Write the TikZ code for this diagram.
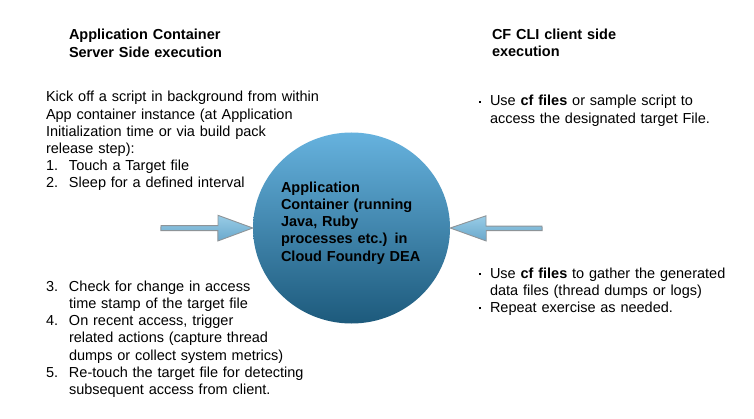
\documentclass[tikz,border=0pt]{standalone}
\usepackage{fontspec}
\setmainfont{Liberation Sans}
\usetikzlibrary{shapes.geometric}
\definecolor{circtop}{HTML}{66B2DE}
\definecolor{circbot}{HTML}{1D5A7C}
\definecolor{arrtop}{HTML}{98CCE6}
\definecolor{arrbot}{HTML}{6AA8CC}
\definecolor{arredge}{HTML}{8E9498}
\newcommand{\mybul}{\makebox[11pt][l]{\raisebox{3.2pt}{\rule{2.2pt}{2.2pt}}}}
\newcommand{\mynum}[1]{\makebox[23pt][l]{#1}}
\tikzset{
  txt/.style={anchor=base west, inner sep=0pt, outer sep=0pt, text width=320pt, align=left,
    font=\fontsize{14.5}{17.1}\selectfont},
  ttl/.style={txt, font=\fontsize{14.5}{17.6}\selectfont\bfseries},
  bigarrow/.style={draw=arredge, line width=0.9pt, top color=arrtop, bottom color=arrbot, line join=miter},
  container/.style={ellipse, minimum width=197pt, minimum height=191pt, inner sep=0pt,
    top color=circtop, bottom color=circbot, shading angle=0}
}
\begin{document}
\begin{tikzpicture}[x=1pt,y=-1pt]
\useasboundingbox[fill=white] (0,0) rectangle (754,419);
% central container
\node[container] (dea) at (351.5,228) {};
\node[ttl, font=\fontsize{14.5}{17.1}\selectfont\bfseries, text width=160pt] (deatext) at (281,192.7)
  {Application\\Container (running\\Java, Ruby\\processes etc.) in\\Cloud Foundry DEA};
% headings
\node[ttl] (lhead) at (69,40) {Application Container\\Server Side execution};
\node[ttl] (rhead) at (492,39.3) {CF CLI client side\\execution};
% left upper text
\node[txt] (lup) at (46,102) {Kick off a script in background from within\\
App container instance (at Application\\
Initialization time or via build pack\\
release step):\\
\mynum{1.}Touch a Target file\\
\mynum{2.}Sleep for a defined interval};
% left lower text
\node[txt] (llow) at (46,291.7) {\mynum{3.}Check for change in access\\
\hspace*{23pt}time stamp of the target file\\
\mynum{4.}On recent access, trigger\\
\hspace*{23pt}related actions (capture thread\\
\hspace*{23pt}dumps or collect system metrics)\\
\mynum{5.}Re-touch the target file for detecting\\
\hspace*{23pt}subsequent access from client.};
% right upper text
\node[txt] (rup) at (479,106) {\mybul Use \textbf{cf files} or sample script to\\
\hspace*{11pt}access the designated target File.};
% right lower text
\node[txt] (rlow) at (479,278.3) {\mybul Use \textbf{cf files} to gather the generated\\
\hspace*{11pt}data files (thread dumps or logs)\\
\mybul Repeat exercise as needed.};
% arrows
\coordinate (ltail) at (161,228.3);
\coordinate (rtail) at (542,228.8);
\path[bigarrow] (ltail) ++(0,-2.6) -- ++(57,0) -- ++(0,-10.4) -- (dea.west) -- ++(-35,13) -- ++(0,-10.4) -- ++(-57,0) -- cycle;
\path[bigarrow] (rtail) ++(0,-2.6) -- ++(-56,0) -- ++(0,-10.4) -- (dea.east) -- ++(36,13) -- ++(0,-10.4) -- ++(56,0) -- cycle;
\end{tikzpicture}
\end{document}
